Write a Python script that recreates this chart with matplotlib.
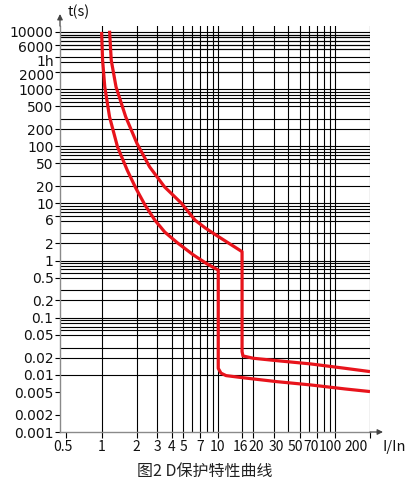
import matplotlib
matplotlib.use('Agg')
import matplotlib.pyplot as plt
import matplotlib.transforms as mtransforms
from matplotlib.ticker import FixedLocator, FixedFormatter, NullLocator

# ---- data ----
x_grid = [1, 2, 3, 4, 5, 6, 7, 8, 9, 10, 16, 20, 30, 40, 50, 60, 70, 80, 90, 100, 200]
x_tick_vals = [0.5, 1, 2, 3, 4, 5, 7, 10, 16, 20, 30, 50, 70, 100, 200]
x_tick_labels = ['0.5', '1', '2', '3', '4', '5', '7', '10', '16', '20', '30', '50', '70', '100', '200']

y_top_decade = [10000, 9000, 8000, 7000, 6000, 5000, 3600, 2000]
y_minor_mult = [1, 2, 3, 5, 6, 7, 8, 9]
y_decades = [1000, 100, 10, 1, 0.1, 0.01]
y_tick_vals = [10000, 6000, 3600, 2000, 1000, 500, 200, 100, 50, 20, 10, 6, 2, 1,
               0.5, 0.2, 0.1, 0.05, 0.02, 0.01, 0.005, 0.002, 0.001]
y_tick_labels = ['10000', '6000', '1h', '2000', '1000', '500', '200', '100', '50', '20',
                 '10', '6', '2', '1', '0.5', '0.2', '0.1', '0.05', '0.02', '0.01',
                 '0.005', '0.002', '0.001']

lower_x = [1.0, 1.02, 1.065, 1.17, 1.37, 1.66, 1.97, 2.36, 2.86, 3.48, 4.46, 6.13, 7.91, 10, 10,
           10.56, 11.67, 16.3, 31.9, 62.5, 122.8, 200]
lower_t = [10000, 3200, 1090, 327, 97, 38, 18.3, 9.3, 5.1, 3.15, 2.05, 1.25, 0.89, 0.68, 0.013,
           0.0107, 0.0097, 0.0089, 0.0076, 0.00665, 0.00566, 0.0051]

upper_x = [1.17, 1.21, 1.33, 1.61, 2.01, 2.58, 3.46, 4.85, 6.32, 7.76, 9.57, 16, 16, 16.3, 20,
           31.9, 62.5, 122.8, 200]
upper_t = [10500, 3200, 1090, 327, 112, 43.6, 19.5, 10, 5.1, 3.7, 2.79, 1.43, 0.0255, 0.0214,
           0.0195, 0.0177, 0.0155, 0.0130, 0.0114]

title = '图2 D保护特性曲线'

# label nudges in pixels (styling only)
x_label_nudge = {'0.5': -4, '10': -1, '16': -2, '20': 3, '30': 2, '50': -4,
                 '70': -6, '100': -5, '200': -14}
y_label_nudge = {'6000': -1.5, '1h': -3, '2000': -2.5, '6': -3}

# ---- figure ----
W, H = 408, 487
fig = plt.figure(figsize=(W / 100, H / 100), dpi=100)
fig.patch.set_facecolor('white')
ax = fig.add_axes([60 / W, (H - 432) / H, 310 / W, 406 / H])
ax.set_xscale('log')
ax.set_yscale('log')
ax.set_xlim(0.44, 200)
ax.set_ylim(0.001, 12700)

grid_kw = dict(color='black', lw=0.8, zorder=1)
for xv in x_grid:
    ax.axvline(xv, **grid_kw)
y_grid = list(y_top_decade)
for d in y_decades:
    for m in y_minor_mult:
        y_grid.append(m * d)
for yv in y_grid:
    ax.axhline(yv, **grid_kw)

red = '#e8141c'
ax.plot(lower_x, lower_t, color=red, lw=2.3, zorder=3, solid_joinstyle='round', solid_capstyle='butt')
ax.plot(upper_x, upper_t, color=red, lw=2.3, zorder=3, solid_joinstyle='round', solid_capstyle='butt')

for s in ['top', 'right']:
    ax.spines[s].set_visible(False)
for s in ['left', 'bottom']:
    ax.spines[s].set_color('#8a8a8a')
    ax.spines[s].set_linewidth(1.0)

ax.xaxis.set_major_locator(FixedLocator(x_tick_vals))
ax.xaxis.set_major_formatter(FixedFormatter(x_tick_labels))
ax.xaxis.set_minor_locator(NullLocator())
ax.yaxis.set_major_locator(FixedLocator(y_tick_vals))
ax.yaxis.set_major_formatter(FixedFormatter(y_tick_labels))
ax.yaxis.set_minor_locator(NullLocator())

ax.tick_params(axis='x', direction='out', length=4.3, width=0.8, color='black', pad=1.5,
               labelsize=10, labelcolor='#111111')
ax.tick_params(axis='y', direction='out', length=3.6, width=0.8, color='black', pad=1.0,
               labelsize=10, labelcolor='#111111')

fig.canvas.draw()
for lab in ax.get_xticklabels():
    lab.set_family(['Noto Sans CJK SC', 'DejaVu Sans'])
    dx = x_label_nudge.get(lab.get_text(), 0)
    if dx:
        lab.set_transform(lab.get_transform() +
                          mtransforms.ScaledTranslation(dx / 100, 0, fig.dpi_scale_trans))
for lab in ax.get_yticklabels():
    dy = y_label_nudge.get(lab.get_text(), 0)
    if dy:
        lab.set_transform(lab.get_transform() +
                          mtransforms.ScaledTranslation(0, dy / 100, fig.dpi_scale_trans))

# axis arrows
ax.annotate('', xy=(383 / W, (H - 432) / H), xytext=(370 / W, (H - 432) / H),
            xycoords='figure fraction', textcoords='figure fraction',
            arrowprops=dict(arrowstyle='-|>', color='#444444', lw=0.9, mutation_scale=8,
                            shrinkA=0, shrinkB=0), annotation_clip=False)
ax.annotate('', xy=(60 / W, (H - 14) / H), xytext=(60 / W, (H - 26) / H),
            xycoords='figure fraction', textcoords='figure fraction',
            arrowprops=dict(arrowstyle='-|>', color='#444444', lw=0.9, mutation_scale=8,
                            shrinkA=0, shrinkB=0), annotation_clip=False)

fig.text(68 / W, 1 - 12 / H, 't(s)', fontsize=10.5, va='center', ha='left', color='#111111',
         family=['Noto Sans CJK SC', 'DejaVu Sans'])
fig.text(383 / W, 1 - 447 / H, 'I/In', fontsize=10.5, va='center', ha='left', color='#111111',
         family=['Noto Sans CJK SC', 'DejaVu Sans'])
fig.text(205 / W, 1 - 471 / H, title, fontsize=11.5, va='center', ha='center', color='#222222',
         family=['Noto Sans CJK SC', 'DejaVu Sans'])

fig.savefig('out.png', dpi=100, facecolor='white')
